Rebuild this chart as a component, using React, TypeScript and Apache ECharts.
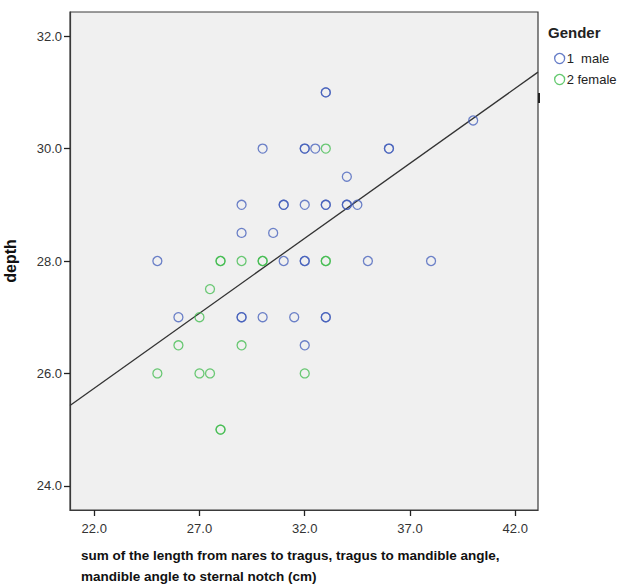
import React, { useEffect, useRef } from "react";
import * as echarts from "echarts";

// sum of lengths (cm) and depth per point
const maleSum = [25, 33, 33, 30, 32, 32, 32.5, 36, 36, 40, 34, 29, 31, 31, 32, 33, 33, 34, 34, 34.5, 29, 30.5, 31, 32, 32, 35, 38, 26, 29, 29, 30, 31.5, 33, 33, 32];
const maleDepth = [28, 31, 31, 30, 30, 30, 30, 30, 30, 30.5, 29.5, 29, 29, 29, 29, 29, 29, 29, 29, 29, 28.5, 28.5, 28, 28, 28, 28, 28, 27, 27, 27, 27, 27, 27, 27, 26.5];
const femaleSum = [33, 28, 28, 29, 30, 30, 33, 33, 27.5, 27, 26, 29, 25, 27, 27.5, 32, 28, 28];
const femaleDepth = [30, 28, 28, 28, 28, 28, 28, 28, 27.5, 27, 26.5, 26.5, 26, 26, 26, 26, 25, 25];

// fit line end points (total)
const fitSum = [20.85, 43.08];
const fitDepth = [25.43, 31.36];

const xTicks = [22, 27, 32, 37, 42];
const yTicks = [24, 26, 28, 30, 32];
const xRange = [20.85, 43.08];
const yRange = [23.57, 32.43];

const seriesNames = ["1  male", "2 female"];
const xTitle = "sum of the length from nares to tragus, tragus to mandible angle,\nmandible angle to sternal notch (cm)";
const yTitle = "depth";
const legendTitle = "Gender";

const BLUE = "#3f5bb9";
const GREEN = "#3dbb4b";

export default function App() {
  const ref = useRef<HTMLDivElement>(null);
  useEffect(() => {
    if (!ref.current) return;
    const chart = echarts.init(ref.current, undefined, { renderer: "svg" });
    const pairs = (xs: number[], ys: number[]) => xs.map((x, i) => [x, ys[i]]);
    const font = "'Liberation Sans', Arial, sans-serif";
    chart.setOption({
      animation: false,
      grid: {
        left: 70,
        top: 12,
        width: 468,
        height: 498,
        containLabel: false,
        outerBoundsMode: "none",
        show: true,
        backgroundColor: "#f0f0f0",
        borderColor: "#3a3a3a",
        borderWidth: 1.2,
      },
      legend: {
        orient: "vertical",
        left: 549,
        top: 47,
        itemWidth: 10,
        itemHeight: 10,
        itemGap: 8,
        icon: "circle",
        textStyle: { fontSize: 13, color: "#222", fontFamily: font, padding: [0, 0, 0, -3] },
        data: [
          { name: seriesNames[0], itemStyle: { color: "transparent", borderColor: BLUE, borderWidth: 1.3, opacity: 0.8 } },
          { name: seriesNames[1], itemStyle: { color: "transparent", borderColor: GREEN, borderWidth: 1.3, opacity: 0.8 } },
        ],
      },
      xAxis: {
        type: "value",
        min: xRange[0],
        max: xRange[1],
        splitLine: { show: false },
        axisLine: { show: true, onZero: false, lineStyle: { color: "#3a3a3a", width: 1.2 } },
        axisTick: { show: true, inside: false, length: 6, lineStyle: { color: "#222", width: 1.3 }, customValues: xTicks },
        axisLabel: {
          customValues: xTicks,
          formatter: (v: number) => v.toFixed(1),
          color: "#333",
          fontSize: 13,
          fontFamily: font,
          margin: 12,
        },
      },
      yAxis: {
        type: "value",
        min: yRange[0],
        max: yRange[1],
        name: yTitle,
        nameLocation: "middle",
        nameGap: 52,
        nameTextStyle: { fontSize: 16, fontWeight: "bold", color: "#111", fontFamily: font },
        splitLine: { show: false },
        axisLine: { show: true, onZero: false, lineStyle: { color: "#3a3a3a", width: 1.2 } },
        axisTick: { show: true, inside: false, length: 6, lineStyle: { color: "#222", width: 1.3 }, customValues: yTicks },
        axisLabel: {
          customValues: yTicks,
          formatter: (v: number) => v.toFixed(1),
          color: "#333",
          fontSize: 13,
          fontFamily: font,
          margin: 8,
        },
      },
      series: [
        {
          name: seriesNames[0],
          type: "scatter",
          symbol: "circle",
          symbolSize: 9,
          itemStyle: { color: "transparent", borderColor: BLUE, borderWidth: 1.3, opacity: 0.75 },
          data: pairs(maleSum, maleDepth),
          z: 3,
        },
        {
          name: seriesNames[1],
          type: "scatter",
          symbol: "circle",
          symbolSize: 9,
          itemStyle: { color: "transparent", borderColor: GREEN, borderWidth: 1.3, opacity: 0.75 },
          data: pairs(femaleSum, femaleDepth),
          z: 3,
        },
        {
          name: "fit",
          type: "line",
          data: pairs(fitSum, fitDepth),
          symbol: "none",
          silent: true,
          lineStyle: { color: "#333", width: 1.3 },
          z: 2,
        },
      ],
      graphic: [
        {
          type: "text",
          left: 548,
          top: 25,
          style: { text: legendTitle, fontSize: 15, fontWeight: "bold", fill: "#222", fontFamily: font },
        },
        {
          type: "rect",
          shape: { x: 538, y: 93, width: 2, height: 10 },
          style: { fill: "#222" },
        },
        {
          type: "text",
          left: 81,
          top: 545,
          style: {
            text: xTitle,
            fontSize: 13.5,
            fontWeight: "bold",
            fill: "#111",
            lineHeight: 21,
            fontFamily: font,
          },
        },
      ],
    });
    return () => chart.dispose();
  }, []);
  return (
    <div
      ref={ref}
      style={{ position: "fixed", left: 0, top: 0, width: 619, height: 585, background: "#fff" }}
    />
  );
}
